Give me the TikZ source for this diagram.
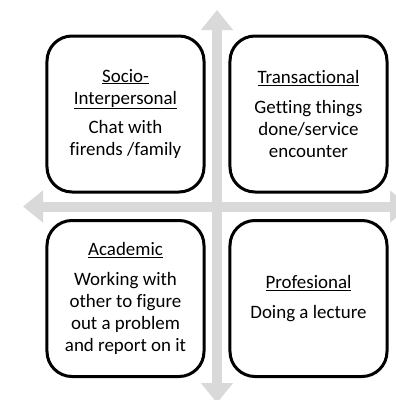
\documentclass[tikz,border=0pt]{standalone}
\usepackage{fontspec}
\setmainfont{Carlito}[Ligatures=NoCommon]
\usetikzlibrary{arrows.meta}
\begin{document}
\begin{tikzpicture}[x=1bp,y=-1bp,
	axis/.style={line width=10bp,draw=black!15,{Triangle[width=31bp,length=20bp]}-{Triangle[width=31bp,length=20bp]}},
	quad/.style={draw,fill=white,line width=3bp,rounded corners=25bp,minimum width=157bp,minimum height=156bp,align=center,font=\fontsize{19}{22}\selectfont}]
	\useasboundingbox (0,0) rectangle (396,400);
	\coordinate (top) at (217,10);
	\coordinate (bottom) at (217,403);
	\coordinate (left) at (23,206.5);
	\coordinate (right) at (410,206.5);
	\draw[axis] (left) -- (right);
	\draw[axis] (bottom) -- (top);
	\node[quad] (social) at (125.5,114) {\underline{Socio-}\\\underline{Interpersonal}\\[8bp]Chat with\\firends /family};
	\node[quad] (trans) at (308.5,114) {\underline{Transactional}\\[8bp]Getting things\\done/service\\encounter};
	\node[quad] (acad) at (125.5,298.5) {\underline{Academic}\\[8bp]Working with\\other to figure\\out a problem\\and report on it};
	\node[quad] (prof) at (308.5,298.5) {\underline{Profesional}\\[8bp]Doing a lecture};
\end{tikzpicture}
\end{document}
